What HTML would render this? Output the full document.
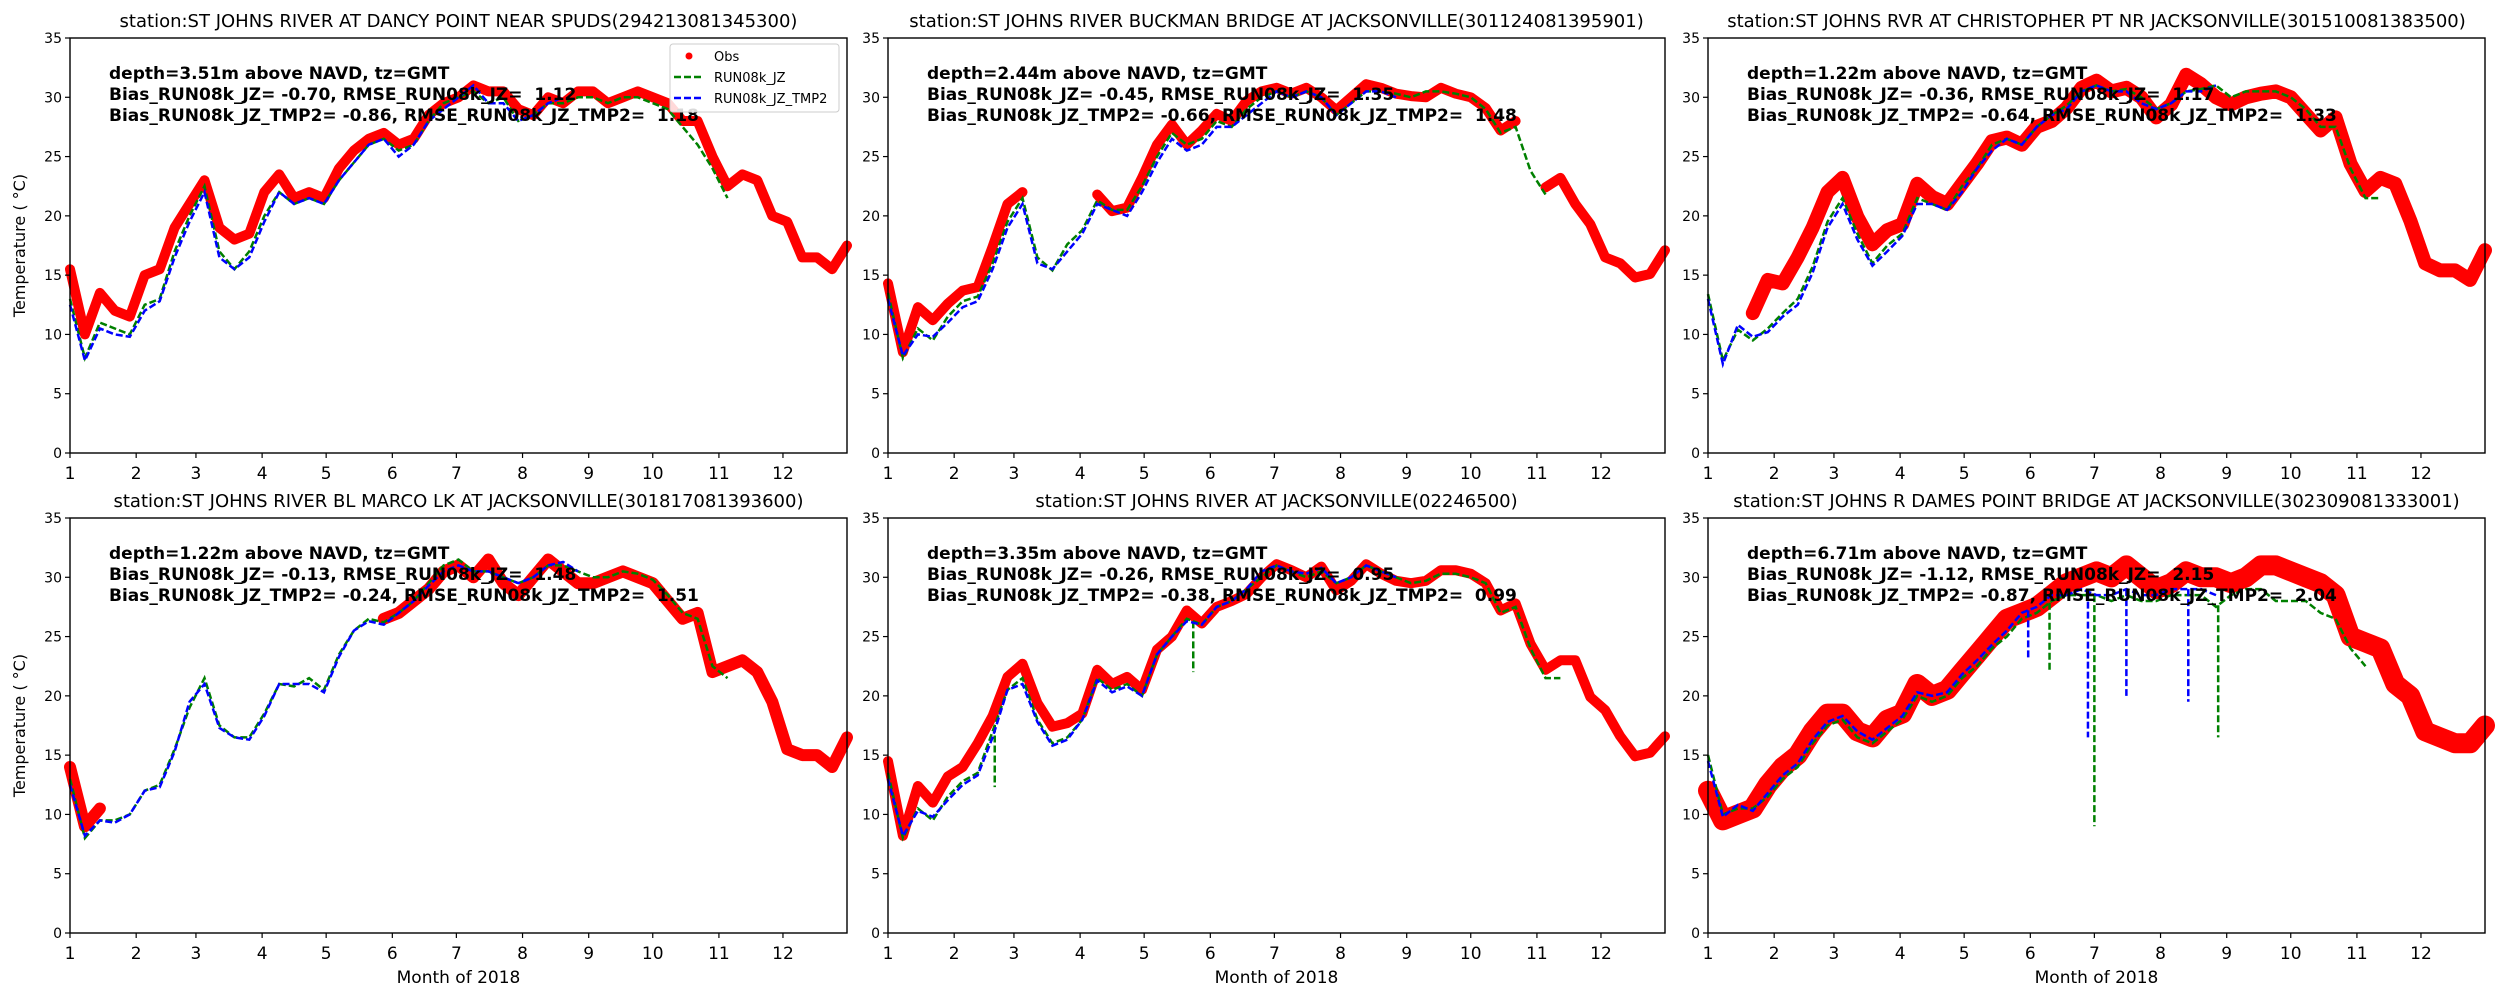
<!DOCTYPE html>
<html><head><meta charset="utf-8">
<style>
html,body{margin:0;padding:0;background:#fff;}
svg{display:block;font-family:"DejaVu Sans","Liberation Sans",sans-serif;}
</style></head>
<body>
<svg id="fig" width="2500" height="1000" viewBox="0 0 2500 1000" xmlns="http://www.w3.org/2000/svg"></svg>
<script>
// ---------- data ----------
const monthLabels = ["1","2","3","4","5","6","7","8","9","10","11","12"];
const monthStartDays = [0,31,59,90,120,151,181,212,243,273,304,334];
const yTicks = [0,5,10,15,20,25,30,35];
const weekDays = [0,7,14,21,28,35,42,49,56,63,70,77,84,91,98,105,112,119,126,133,140,147,154,161,168,175,182,189,196,203,210,217,224,231,238,245,252,259,266,273,280,287,294,301,308,315,322,329,336,343,350,357,364];

const titles = [
 "station:ST JOHNS RIVER AT DANCY POINT NEAR SPUDS(294213081345300)",
 "station:ST JOHNS RIVER BUCKMAN BRIDGE AT JACKSONVILLE(301124081395901)",
 "station:ST JOHNS RVR AT CHRISTOPHER PT NR JACKSONVILLE(301510081383500)",
 "station:ST JOHNS RIVER BL MARCO LK AT JACKSONVILLE(301817081393600)",
 "station:ST JOHNS RIVER AT JACKSONVILLE(02246500)",
 "station:ST JOHNS R DAMES POINT BRIDGE AT JACKSONVILLE(302309081333001)"];
const depths = ["3.51","2.44","1.22","1.22","3.35","6.71"];
const biasJZ = ["-0.70","-0.45","-0.36","-0.13","-0.26","-1.12"];
const rmseJZ = ["1.12","1.35","1.17","1.48","0.95","2.15"];
const biasTMP = ["-0.86","-0.66","-0.64","-0.24","-0.38","-0.87"];
const rmseTMP = ["1.18","1.48","1.33","1.51","0.99","2.04"];

const obs1 = [15.5,10,13.5,12,11.5,15,15.5,19,21,23,19,18,18.5,22,23.5,21.5,22,21.5,24,25.5,26.5,27,26,26.5,28.5,29.5,30,31,30.5,30.5,29,28.5,30,29.5,30.5,30.5,29.5,30,30.5,30,29.5,28,28,25,22.5,23.5,23,20,19.5,16.5,16.5,15.5,17.5];
const jz1 = [13,8,11,10.5,10,12.5,13,17,20,22.5,17,15.5,17,20,22,21,21.5,21,23,24.5,26,26.5,25.5,26,28,29.5,30,30.5,29.5,30,28,28.5,29.5,29.5,30,30,29.5,30,30,29.5,29,27.5,26,24,21.5];
const tmp1 = [12.5,7.8,10.5,10,9.8,12,12.8,16.5,19.5,22,16.5,15.5,16.5,19.5,22,21,21.5,21,23,24.5,26,26.5,25,26,28,29,30,31,29.5,29.5,28,28.5,29.5,30];

const obs2 = [14.3,8.5,12.3,11.2,12.6,13.7,14,17.4,21,22,null,null,null,null,21.8,20.4,20.7,23.2,26,27.7,26,27.2,28.6,28,29.7,30.5,30.8,30.3,30.8,30,28.9,30,31.1,30.8,30.3,30.1,30,30.8,30.3,30,29.1,27.2,28,null,22.4,23.2,21,19.3,16.5,16,14.8,15.1,17.1];
const jz2 = [13.5,8,10.5,9.5,11.5,12.8,13.2,16,19.5,21.5,16.5,15.4,17.6,18.8,21.3,20.5,20.5,22.5,25,27,26,26.5,28,27.5,29,30,30.5,30,30.5,30,28.5,29.5,30.5,30.5,30.3,30,30.5,30.5,30.3,30,29,27,27.5,23.8,21.8];
const tmp2 = [13,8.2,10,9.8,11,12.3,12.8,15.5,19,21,16,15.5,17,18.5,21,20.5,20,22,24.5,26.5,25.5,26,27.5,27.5,28.5,29.5,30.5,30,30.5,30,28.5,29.5,30.5,30.5,30];

const obs3 = [null,null,null,11.8,14.6,14.3,16.5,19,22,23.2,19.9,17.6,18.8,19.3,22.7,21.6,21,22.7,24.4,26.3,26.6,26,27.5,28,29.1,30.8,31.4,30.5,30.8,30,28.3,29.4,31.9,31.1,30,29.4,30,30.3,30.5,30,28.6,27.2,28.3,24.4,22.1,23.2,22.7,19.6,16,15.4,15.4,14.6,17.1];
const jz3 = [13.4,7.8,10.4,9.5,10.5,11.8,13,15.7,19.5,21.5,18.5,16,17.5,18.5,21.5,21,20.5,22.5,24,26,26.5,26,27.5,28.5,29.3,30.5,31,30.5,30.7,30,29,29.5,30.5,30.7,31,30,30.5,30.5,30.5,30,29,27.5,27.5,24,21.5,21.5];
const tmp3 = [13,7.5,10.8,9.8,10.2,11.5,12.5,15.2,19,21,18,15.8,17,18.3,21,21,20.5,22,24,25.5,26.5,26,27.5,28.5,29,30.5,31,30.5,30.5,29.5,29,29.5,30.5,30.5,31];

const obs4 = [14,9,10.5,null,null,null,null,null,null,null,null,null,null,null,null,null,null,null,null,null,null,26.5,27,28,29,30.5,31,30,31.5,29.5,28.5,30,31.5,30.5,29.5,29.5,30,30.5,30,29.5,28,26.5,27,22,22.5,23,22,19.5,15.5,15,15,14,16.5];
const jz4 = [13,8,9.5,9.5,10,12,12.5,15.5,19,21.5,17.5,16.5,16.5,18.5,21,20.8,21.5,20.5,23.5,25.5,26.5,26.2,27,28,29.5,31,31.5,30.5,30.5,30,29.5,30,31,31,30.5,30,30,30.5,30.3,29.8,28.5,27,26.5,22.5,21.5];
const tmp4 = [12.5,8.2,9.5,9.3,10,12,12.3,15.3,19.5,21,17.3,16.5,16.3,18.3,21,21,21,20.3,23.3,25.5,26.3,26,27,28,29.3,30.5,31,30.5,30.5,30,29.5,30,31,31.3,30.5];

const obs5 = [14.5,8.2,12.4,11,13.2,14,16,18.3,21.6,22.7,19.4,17.4,17.7,18.5,22.2,21,21.6,20.5,23.9,25,27.2,26.1,27.5,28,28.6,30,31.1,30.6,30,30.9,28.9,29.7,31.1,30.3,29.7,29.5,29.7,30.6,30.6,30.3,29.5,27.2,27.8,24.4,22.2,23,23,19.9,18.8,16.6,14.9,15.2,16.6];
const jz5 = [13.5,8,10.5,9.5,11.5,12.8,13.5,17,20.5,21.5,18,16,16.5,18,21.5,20.5,21,20,23.5,25,26.5,26,27.5,28,29,30,31,30.5,30,30.5,29.5,30,31,30.5,30,29.5,29.7,30.3,30.3,30,29.5,27,27.5,24,21.5,21.5];
const tmp5 = [13,8.2,10.3,9.8,11.2,12.5,13.3,16.5,20.5,21,17.8,15.8,16.3,18,21.3,20.3,20.8,20,23.5,25,26.3,26,27.5,28,29,30.5,31,30.5,30.3,30.8,29.5,30,31,30.5,30];

const obs6 = [12,9.5,10,10.5,12.5,14,15,17,18.5,18.5,17,16.5,18,18.5,21,20,20.5,22,23.5,25,26.5,27,27.5,28.5,29.5,30,30.5,30,31,30,29,29.5,30.5,30,30,29.5,30,31,31,30.5,30,29.5,28.5,25,24.5,24,21,20,17,16.5,16,16,17.5];
const jz6 = [15,10,10.5,10.5,11.5,13,14,16,17.5,18,16.5,16,17,18,20,19.5,20,21.5,22.5,24,25,26.5,27,28,28.5,28.5,28.5,28,28.5,28,28,28.5,28.5,28.5,27.5,28.5,29,29,28,28,28,27,26.5,24,22.5];
const tmp6 = [14.5,9.8,10.8,10.3,11.8,13.3,14.3,16.3,17.8,18.3,17,16.3,17.3,18.3,20.3,20,20.3,21.8,23,24.3,25.5,27,27.5,28.5,28.5,29,28.5,28.5,29,28.5,28.5,29,29,29,28.5];

// model spikes (day of year, value)
const jzSpikeDays5 = [50,143];
const jzSpikeVals5 = [12.3,22];
const jzSpikeDays6 = [181,239,160];
const jzSpikeVals6 = [9,16.5,22];
const tmpSpikeDays6 = [178,196,225,150];
const tmpSpikeVals6 = [16.5,20,19.5,23];

const obsAll = [obs1,obs2,obs3,obs4,obs5,obs6];
const jzAll = [jz1,jz2,jz3,jz4,jz5,jz6];
const tmpAll = [tmp1,tmp2,tmp3,tmp4,tmp5,tmp6];
const jzSpikeDaysAll = [[],[],[],[],jzSpikeDays5,jzSpikeDays6];
const jzSpikeValsAll = [[],[],[],[],jzSpikeVals5,jzSpikeVals6];
const tmpSpikeDaysAll = [[],[],[],[],[],tmpSpikeDays6];
const tmpSpikeValsAll = [[],[],[],[],[],tmpSpikeVals6];

// ---------- layout ----------
const NS = "http://www.w3.org/2000/svg";
const svg = document.getElementById("fig");
const panelX = [70,888,1708];
const panelY = [38,518];
const PW = 777, PH = 415;
const DAYMAX = 364, VMAX = 35;
const obsWidths = [10,10,14,12,10,20];

function mk(tag, attrs, parent){
  const e = document.createElementNS(NS, tag);
  for (const k in attrs) e.setAttribute(k, attrs[k]);
  (parent||svg).appendChild(e);
  return e;
}
function xs(p, d){ return p.x + d/DAYMAX*PW; }
function ys(p, v){ return p.y + PH - v/VMAX*PH; }
function pathFrom(p, vals){
  let d = "", pen = false;
  for (let i=0;i<vals.length;i++){
    const v = vals[i];
    if (v===null || v===undefined){ pen=false; continue; }
    d += (pen?"L":"M") + xs(p,weekDays[i]).toFixed(1) + " " + ys(p,v).toFixed(1) + " ";
    pen = true;
  }
  return d;
}
function interp(vals, day){
  const i = Math.min(Math.floor(day/7), vals.length-2);
  const a = vals[i], b = vals[i+1];
  if (a==null) return b; if (b==null) return a;
  const t = (day - weekDays[i])/7;
  return a + (b-a)*t;
}

for (let k=0;k<6;k++){
  const p = {x: panelX[k%3], y: panelY[Math.floor(k/3)]};
  const g = mk("g", {});
  
  

  // title
  const t = mk("text", {x: p.x+PW/2, y: p.y-11, "text-anchor":"middle", "font-size":"18", fill:"#000"}, g);
  t.textContent = titles[k];
  
  

  // obs
  const o = mk("path", {d: pathFrom(p, obsAll[k]), fill:"none", stroke:"#ff0000", "stroke-width": obsWidths[k], "stroke-linejoin":"round", "stroke-linecap":"round"}, g);
  
  

  // jz
  const jz = mk("path", {d: pathFrom(p, jzAll[k]), fill:"none", stroke:"#008000", "stroke-width":"2.5", "stroke-dasharray":"7,3"}, g);
  
  
  for (let s=0;s<jzSpikeDaysAll[k].length;s++){
    const d = jzSpikeDaysAll[k][s];
    const sp = mk("line", {x1: xs(p,d), x2: xs(p,d), y1: ys(p, interp(jzAll[k], d)), y2: ys(p, jzSpikeValsAll[k][s]), stroke:"#008000", "stroke-width":"2.5", "stroke-dasharray":"7,3"}, g);
    
    
  }
  // tmp2
  const tm = mk("path", {d: pathFrom(p, tmpAll[k]), fill:"none", stroke:"#0000ff", "stroke-width":"2.5", "stroke-dasharray":"7,3"}, g);
  
  
  for (let s=0;s<tmpSpikeDaysAll[k].length;s++){
    const d = tmpSpikeDaysAll[k][s];
    const sp = mk("line", {x1: xs(p,d), x2: xs(p,d), y1: ys(p, interp(tmpAll[k], d)), y2: ys(p, tmpSpikeValsAll[k][s]), stroke:"#0000ff", "stroke-width":"2.5", "stroke-dasharray":"7,3"}, g);
    
    
  }

  // frame
  const fr = mk("rect", {x:p.x, y:p.y, width:PW, height:PH, fill:"none", stroke:"#000", "stroke-width":"1.4"}, g);
  
  

  // y ticks
  for (let i=0;i<yTicks.length;i++){
    const yy = ys(p, yTicks[i]);
    const tk = mk("line", {x1:p.x-5, x2:p.x, y1:yy, y2:yy, stroke:"#000", "stroke-width":"1.2"}, g);
    
    
    const tl = mk("text", {x:p.x-8, y:yy+5, "text-anchor":"end", "font-size":"14", fill:"#000"}, g);
    tl.textContent = yTicks[i];
    
    
  }
  // x ticks
  for (let i=0;i<monthLabels.length;i++){
    const xx = xs(p, monthStartDays[i]);
    const tk = mk("line", {x1:xx, x2:xx, y1:p.y+PH, y2:p.y+PH+5, stroke:"#000", "stroke-width":"1.2"}, g);
    
    
    const tl = mk("text", {x:xx, y:p.y+PH+26, "text-anchor":"middle", "font-size":"17", fill:"#000"}, g);
    tl.textContent = monthLabels[i];
    
    
  }

  // annotation
  const lines = [
    "depth=" + depths[k] + "m above NAVD, tz=GMT",
    "Bias_RUN08k_JZ= " + biasJZ[k] + ", RMSE_RUN08k_JZ=  " + rmseJZ[k],
    "Bias_RUN08k_JZ_TMP2= " + biasTMP[k] + ", RMSE_RUN08k_JZ_TMP2=  " + rmseTMP[k]];
  for (let i=0;i<3;i++){
    const a = mk("text", {x:p.x+39, y:p.y+41+i*21, "font-size":"17", "font-weight":"bold", fill:"#000", "xml:space":"preserve", style:"white-space:pre"}, g);
    a.textContent = lines[i];
    
    
  }

  if (k%3===0){
    const yl = mk("text", {x:0, y:0, transform:"translate(" + (p.x-45) + "," + (p.y+PH/2) + ") rotate(-90)", "text-anchor":"middle", "font-size":"16", fill:"#000"}, g);
    yl.textContent = "Temperature ( \u00B0C)";
    
    
  }
  if (k>=3){
    const xl = mk("text", {x:p.x+PW/2, y:p.y+PH+50, "text-anchor":"middle", "font-size":"17", fill:"#000"}, g);
    xl.textContent = "Month of 2018";
    
    
  }
}

// legend (panel 1)
const lg = mk("g", {});


const lb = mk("rect", {x:670, y:44, width:169, height:68, rx:3, fill:"#fff", "fill-opacity":"0.85", stroke:"#cccccc", "stroke-width":"1"}, lg);


const ld = mk("circle", {cx:689, cy:56, r:3.5, fill:"#ff0000"}, lg);


const l1 = mk("line", {x1:674, x2:703, y1:77, y2:77, stroke:"#008000", "stroke-width":"2.5", "stroke-dasharray":"7,3"}, lg);


const l2 = mk("line", {x1:674, x2:703, y1:98, y2:98, stroke:"#0000ff", "stroke-width":"2.5", "stroke-dasharray":"7,3"}, lg);


const legTexts = ["Obs","RUN08k_JZ","RUN08k_JZ_TMP2"];
for (let i=0;i<3;i++){
  const tt = mk("text", {x:714, y:61+i*21, "font-size":"13", fill:"#000"}, lg);
  tt.textContent = legTexts[i];
  
  
}
</script>
</body></html>
